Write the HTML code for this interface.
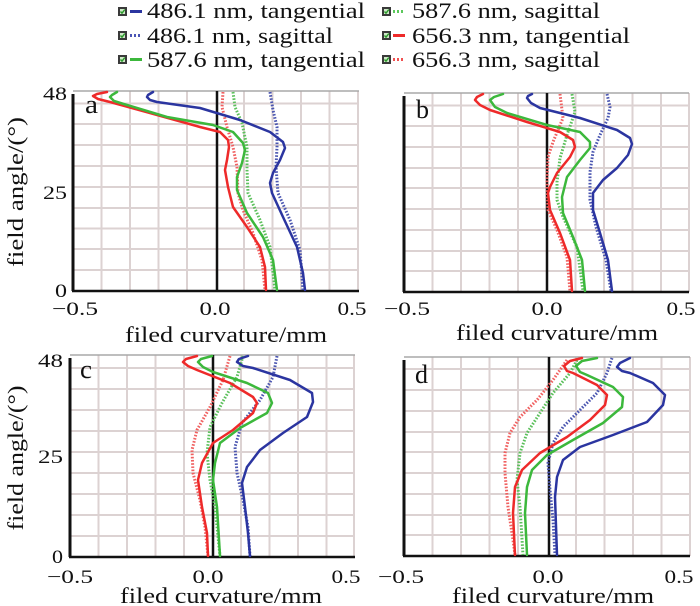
<!DOCTYPE html>
<html><head><meta charset="utf-8"><style>
html,body{margin:0;padding:0;background:#fff;}
svg{display:block;}
svg text{font-family:"Liberation Serif","Times New Roman",serif;fill:#111;}
</style></head><body>
<svg width="700" height="606" viewBox="0 0 700 606" xmlns="http://www.w3.org/2000/svg" font-family="Liberation Serif, Times New Roman, serif">
<defs>
<g id="chk"><rect x="0" y="0" width="9" height="9" fill="#3a3a3a"/><rect x="2" y="2" width="5" height="5" fill="#cfe8c8"/><path d="M2.5 4.5 L4 6.2 L6.8 2.6" stroke="#2a9a2a" stroke-width="1.4" fill="none"/></g>
</defs>

<!-- Legend -->
<g>
<use href="#chk" x="118" y="7"/><line x1="130" y1="11.5" x2="142" y2="11.5" stroke="#2b35a0" stroke-width="3"/>
<text x="147" y="18" font-size="22" textLength="218" lengthAdjust="spacingAndGlyphs">486.1 nm, tangential</text>
<use href="#chk" x="118" y="31"/><line x1="130" y1="35.5" x2="142" y2="35.5" stroke="#4a55b5" stroke-width="3" stroke-dasharray="2 2"/>
<text x="147" y="43" font-size="22" textLength="186" lengthAdjust="spacingAndGlyphs">486.1 nm, sagittal</text>
<use href="#chk" x="118" y="55"/><line x1="130" y1="59.5" x2="142" y2="59.5" stroke="#3cb83c" stroke-width="3"/>
<text x="147" y="67" font-size="22" textLength="218" lengthAdjust="spacingAndGlyphs">587.6 nm, tangential</text>

<use href="#chk" x="382" y="7"/><line x1="393" y1="11.5" x2="405" y2="11.5" stroke="#5cc85c" stroke-width="3" stroke-dasharray="2 2"/>
<text x="412" y="18" font-size="22" textLength="188" lengthAdjust="spacingAndGlyphs">587.6 nm, sagittal</text>
<use href="#chk" x="382" y="31"/><line x1="393" y1="35.5" x2="405" y2="35.5" stroke="#ee2a2a" stroke-width="3"/>
<text x="412" y="43" font-size="22" textLength="218" lengthAdjust="spacingAndGlyphs">656.3 nm, tangential</text>
<use href="#chk" x="382" y="55"/><line x1="393" y1="59.5" x2="405" y2="59.5" stroke="#f05050" stroke-width="3" stroke-dasharray="2 2"/>
<text x="412" y="67" font-size="22" textLength="188" lengthAdjust="spacingAndGlyphs">656.3 nm, sagittal</text>
</g>

<!-- ===== Panel a ===== -->
<g stroke="#dcd2d2" stroke-width="2">
<line x1="101.5" y1="91" x2="101.5" y2="291"/><line x1="130" y1="91" x2="130" y2="291"/><line x1="158.5" y1="91" x2="158.5" y2="291"/><line x1="187" y1="91" x2="187" y2="291"/><line x1="244" y1="91" x2="244" y2="291"/><line x1="272.5" y1="91" x2="272.5" y2="291"/><line x1="301" y1="91" x2="301" y2="291"/><line x1="329.5" y1="91" x2="329.5" y2="291"/><line x1="358" y1="91" x2="358" y2="291"/>
<line x1="73" y1="270" x2="359" y2="270"/><line x1="73" y1="249" x2="359" y2="249"/><line x1="73" y1="228.5" x2="359" y2="228.5"/><line x1="73" y1="208" x2="359" y2="208"/><line x1="73" y1="187" x2="359" y2="187"/><line x1="73" y1="166" x2="359" y2="166"/><line x1="73" y1="145" x2="359" y2="145"/><line x1="73" y1="124" x2="359" y2="124"/><line x1="73" y1="103.5" x2="359" y2="103.5"/>
</g>
<line x1="73" y1="91" x2="359" y2="91" stroke="#a8a8a8" stroke-width="1.5"/>
<line x1="73" y1="94" x2="73" y2="291" stroke="#111" stroke-width="3"/>
<line x1="72" y1="291" x2="359" y2="291" stroke="#111" stroke-width="2.5"/>
<line x1="217" y1="91" x2="217" y2="291" stroke="#111" stroke-width="2.5"/>
<g fill="none" stroke-linejoin="round" stroke-linecap="butt">
<polyline stroke="#f06060" stroke-width="3" stroke-dasharray="1.6 1.6" points="223,92 222,107 227,127 233,147 237,167 238,193 243,210 253,233 262,260 265,290"/>
<polyline stroke="#5cc05c" stroke-width="3" stroke-dasharray="1.6 1.6" points="233,92 235,107 242,123 247,147 247,170 248,193 260,220 270,247 275,290"/>
<polyline stroke="#4a55b0" stroke-width="3" stroke-dasharray="1.6 1.6" points="270,92 273,110 277,127 277,147 276,167 278,193 290,220 300,250 303,290"/>
</g>
<g fill="none" stroke-linejoin="round" stroke-linecap="round">
<polyline stroke="#ee2a2a" stroke-width="2.5" points="107,92 97,94 93,96 98,99 110,102 150,113 200,127 220,132 228,140 229,147 227,160 225,170 228,187 233,207 247,227 260,247 265,267 266,290"/>
<polyline stroke="#3cb83c" stroke-width="2.5" points="117,92 112,95 110,97 114,101 127,105 167,117 213,125 233,132 243,143 245,150 242,163 237,177 237,190 247,213 263,237 273,260 277,290"/>
<polyline stroke="#2b35a0" stroke-width="2.5" points="153,92 148,95 147,97 150,100 157,102 200,108 240,120 270,132 283,142 285,148 280,160 273,173 270,183 272,193 283,217 297,247 303,273 305,290"/>
</g>
<text x="85" y="113" font-size="26" textLength="13" lengthAdjust="spacingAndGlyphs">a</text>
<text x="67" y="100" font-size="19" text-anchor="end" textLength="24" lengthAdjust="spacingAndGlyphs">48</text>
<text x="67" y="199" font-size="19" text-anchor="end" textLength="24" lengthAdjust="spacingAndGlyphs">25</text>
<text x="67" y="297" font-size="19" text-anchor="end" textLength="12" lengthAdjust="spacingAndGlyphs">0</text>
<text x="75" y="315" font-size="19" text-anchor="middle" textLength="46" lengthAdjust="spacingAndGlyphs">−0.5</text>
<text x="215" y="315" font-size="19" text-anchor="middle" textLength="31" lengthAdjust="spacingAndGlyphs">0.0</text>
<text x="352" y="315" font-size="19" text-anchor="middle" textLength="29" lengthAdjust="spacingAndGlyphs">0.5</text>
<text x="226" y="342" font-size="22" text-anchor="middle" textLength="202" lengthAdjust="spacingAndGlyphs">filed curvature/mm</text>
<text transform="translate(23,192) rotate(-90)" font-size="22" text-anchor="middle" textLength="150" lengthAdjust="spacingAndGlyphs">field angle/(°)</text>

<!-- ===== Panel b ===== -->
<g stroke="#dcd2d2" stroke-width="2">
<line x1="432.5" y1="93" x2="432.5" y2="292"/><line x1="461" y1="93" x2="461" y2="292"/><line x1="489.5" y1="93" x2="489.5" y2="292"/><line x1="518" y1="93" x2="518" y2="292"/><line x1="575.5" y1="93" x2="575.5" y2="292"/><line x1="604" y1="93" x2="604" y2="292"/><line x1="632.5" y1="93" x2="632.5" y2="292"/><line x1="661" y1="93" x2="661" y2="292"/><line x1="689" y1="93" x2="689" y2="292"/>
<line x1="404" y1="271" x2="689" y2="271"/><line x1="404" y1="251" x2="689" y2="251"/><line x1="404" y1="230" x2="689" y2="230"/><line x1="404" y1="209" x2="689" y2="209"/><line x1="404" y1="188" x2="689" y2="188"/><line x1="404" y1="168" x2="689" y2="168"/><line x1="404" y1="147" x2="689" y2="147"/><line x1="404" y1="126" x2="689" y2="126"/><line x1="404" y1="105.5" x2="689" y2="105.5"/>
</g>
<line x1="404" y1="93" x2="689" y2="93" stroke="#a8a8a8" stroke-width="1.5"/>
<line x1="404" y1="96" x2="404" y2="292" stroke="#111" stroke-width="3"/>
<line x1="403" y1="292" x2="689" y2="292" stroke="#111" stroke-width="2.5"/>
<line x1="547" y1="93" x2="547" y2="292" stroke="#111" stroke-width="2.5"/>
<g fill="none" stroke-linejoin="round" stroke-linecap="butt">
<polyline stroke="#f06060" stroke-width="3" stroke-dasharray="1.6 1.6" points="560,94 563,118 553,142 548,157 547,180 548,210 557,230 567,257 570,291"/>
<polyline stroke="#5cc05c" stroke-width="3" stroke-dasharray="1.6 1.6" points="572,94 575,112 567,135 560,158 557,182 557,200 563,217 577,247 583,291"/>
<polyline stroke="#4a55b0" stroke-width="3" stroke-dasharray="1.6 1.6" points="607,94 610,107 608,118 600,135 593,152 590,172 590,200 596,227 606,260 611,291"/>
</g>
<g fill="none" stroke-linejoin="round" stroke-linecap="round">
<polyline stroke="#ee2a2a" stroke-width="2.5" points="483,94 477,97 475,100 480,105 490,110 527,122 560,132 573,140 575,147 570,157 557,173 550,187 548,193 550,210 560,233 570,260 572,291"/>
<polyline stroke="#3cb83c" stroke-width="2.5" points="503,94 494,97 490,100 495,107 507,113 547,125 580,132 590,142 590,148 580,160 567,177 562,197 563,213 573,237 582,260 585,291"/>
<polyline stroke="#2b35a0" stroke-width="2.5" points="532,94 528,96 527,98 531,103 540,108 580,118 617,130 630,138 632,144 628,155 617,168 603,180 593,193 593,210 600,233 608,260 612,291"/>
</g>
<text x="416" y="118" font-size="26" textLength="13" lengthAdjust="spacingAndGlyphs">b</text>
<text x="407" y="315" font-size="19" text-anchor="middle" textLength="46" lengthAdjust="spacingAndGlyphs">−0.5</text>
<text x="547" y="315" font-size="19" text-anchor="middle" textLength="31" lengthAdjust="spacingAndGlyphs">0.0</text>
<text x="681" y="315" font-size="19" text-anchor="middle" textLength="29" lengthAdjust="spacingAndGlyphs">0.5</text>
<text x="557" y="340" font-size="22" text-anchor="middle" textLength="202" lengthAdjust="spacingAndGlyphs">filed curvature/mm</text>

<!-- ===== Panel c ===== -->
<g stroke="#dcd2d2" stroke-width="2">
<line x1="98.5" y1="355" x2="98.5" y2="557"/><line x1="127" y1="355" x2="127" y2="557"/><line x1="155.5" y1="355" x2="155.5" y2="557"/><line x1="184" y1="355" x2="184" y2="557"/><line x1="241" y1="355" x2="241" y2="557"/><line x1="269.5" y1="355" x2="269.5" y2="557"/><line x1="298" y1="355" x2="298" y2="557"/><line x1="326.5" y1="355" x2="326.5" y2="557"/><line x1="354" y1="355" x2="354" y2="557"/>
<line x1="70" y1="536" x2="355" y2="536"/><line x1="70" y1="515" x2="355" y2="515"/><line x1="70" y1="494" x2="355" y2="494"/><line x1="70" y1="473" x2="355" y2="473"/><line x1="70" y1="452" x2="355" y2="452"/><line x1="70" y1="431" x2="355" y2="431"/><line x1="70" y1="410" x2="355" y2="410"/><line x1="70" y1="389" x2="355" y2="389"/><line x1="70" y1="368" x2="355" y2="368"/>
</g>
<line x1="70" y1="355" x2="355" y2="355" stroke="#a8a8a8" stroke-width="1.5"/>
<line x1="70" y1="358" x2="70" y2="557" stroke="#111" stroke-width="3"/>
<line x1="69" y1="557" x2="355" y2="557" stroke="#111" stroke-width="2.5"/>
<line x1="213" y1="355" x2="213" y2="557" stroke="#111" stroke-width="2.5"/>
<g fill="none" stroke-linejoin="round" stroke-linecap="butt">
<polyline stroke="#f06060" stroke-width="3" stroke-dasharray="1.6 1.6" points="230,356 223,380 210,407 197,430 192,450 193,473 200,500 205,527 208,556"/>
<polyline stroke="#5cc05c" stroke-width="3" stroke-dasharray="1.6 1.6" points="243,356 237,377 222,403 210,427 207,453 210,480 215,507 220,556"/>
<polyline stroke="#4a55b0" stroke-width="3" stroke-dasharray="1.6 1.6" points="277,356 273,377 260,400 242,423 235,447 237,473 243,500 248,527 250,556"/>
</g>
<g fill="none" stroke-linejoin="round" stroke-linecap="round">
<polyline stroke="#ee2a2a" stroke-width="2.5" points="197,356 186,359 183,362 188,366 197,370 230,383 253,397 257,403 253,413 233,430 213,443 202,463 198,480 202,507 207,533 208,556"/>
<polyline stroke="#3cb83c" stroke-width="2.5" points="212,356 201,359 198,362 203,367 213,372 247,383 268,393 272,403 267,413 240,428 220,443 215,463 213,480 217,507 220,556"/>
<polyline stroke="#2b35a0" stroke-width="2.5" points="248,356 239,359 237,362 243,366 253,368 290,380 312,393 313,402 307,417 283,433 260,450 247,467 242,483 245,507 248,533 250,556"/>
</g>
<text x="80" y="378" font-size="26" textLength="12" lengthAdjust="spacingAndGlyphs">c</text>
<text x="63" y="367" font-size="19" text-anchor="end" textLength="25" lengthAdjust="spacingAndGlyphs">48</text>
<text x="63" y="463" font-size="19" text-anchor="end" textLength="25" lengthAdjust="spacingAndGlyphs">25</text>
<text x="63" y="563" font-size="19" text-anchor="end" textLength="11" lengthAdjust="spacingAndGlyphs">0</text>
<text x="70" y="583" font-size="19" text-anchor="middle" textLength="46" lengthAdjust="spacingAndGlyphs">−0.5</text>
<text x="208" y="583" font-size="19" text-anchor="middle" textLength="31" lengthAdjust="spacingAndGlyphs">0.0</text>
<text x="346" y="583" font-size="19" text-anchor="middle" textLength="29" lengthAdjust="spacingAndGlyphs">0.5</text>
<text x="221" y="603" font-size="22" text-anchor="middle" textLength="202" lengthAdjust="spacingAndGlyphs">filed curvature/mm</text>
<text transform="translate(23,458) rotate(-90)" font-size="22" text-anchor="middle" textLength="145" lengthAdjust="spacingAndGlyphs">field angle/(°)</text>

<!-- ===== Panel d ===== -->
<g stroke="#dcd2d2" stroke-width="2">
<line x1="432.5" y1="357" x2="432.5" y2="556"/><line x1="461" y1="357" x2="461" y2="556"/><line x1="489.5" y1="357" x2="489.5" y2="556"/><line x1="518" y1="357" x2="518" y2="556"/><line x1="576" y1="357" x2="576" y2="556"/><line x1="604.5" y1="357" x2="604.5" y2="556"/><line x1="633" y1="357" x2="633" y2="556"/><line x1="661.5" y1="357" x2="661.5" y2="556"/><line x1="690" y1="357" x2="690" y2="556"/>
<line x1="404" y1="535" x2="690" y2="535"/><line x1="404" y1="515" x2="690" y2="515"/><line x1="404" y1="494" x2="690" y2="494"/><line x1="404" y1="473" x2="690" y2="473"/><line x1="404" y1="452" x2="690" y2="452"/><line x1="404" y1="432" x2="690" y2="432"/><line x1="404" y1="411" x2="690" y2="411"/><line x1="404" y1="390" x2="690" y2="390"/><line x1="404" y1="369" x2="690" y2="369"/>
</g>
<line x1="404" y1="357" x2="690" y2="357" stroke="#a8a8a8" stroke-width="1.5"/>
<line x1="404" y1="360" x2="404" y2="556" stroke="#111" stroke-width="3"/>
<line x1="403" y1="556" x2="690" y2="556" stroke="#111" stroke-width="2.5"/>
<line x1="549" y1="357" x2="549" y2="556" stroke="#111" stroke-width="2.5"/>
<g fill="none" stroke-linejoin="round" stroke-linecap="butt">
<polyline stroke="#f06060" stroke-width="3" stroke-dasharray="1.6 1.6" points="567,360 553,380 537,400 520,417 510,433 505,453 505,473 508,507 513,540 515,555"/>
<polyline stroke="#5cc05c" stroke-width="3" stroke-dasharray="1.6 1.6" points="577,360 570,373 553,393 540,413 527,433 520,453 517,480 520,507 523,555"/>
<polyline stroke="#4a55b0" stroke-width="3" stroke-dasharray="1.6 1.6" points="612,358 607,373 597,393 580,410 563,427 553,443 548,463 550,490 553,520 555,555"/>
</g>
<g fill="none" stroke-linejoin="round" stroke-linecap="round">
<polyline stroke="#ee2a2a" stroke-width="2.5" points="582,358 570,361 564,366 567,371 573,373 597,385 607,395 605,405 590,420 567,437 540,453 522,470 515,487 513,513 515,555"/>
<polyline stroke="#3cb83c" stroke-width="2.5" points="597,358 582,361 576,366 580,372 587,375 613,387 623,397 622,407 603,423 573,440 547,455 532,470 527,487 525,513 527,555"/>
<polyline stroke="#2b35a0" stroke-width="2.5" points="630,358 620,363 617,367 622,371 630,373 653,383 665,395 663,405 647,422 613,435 580,447 563,460 557,477 555,497 557,555"/>
</g>
<text x="415" y="383" font-size="26" textLength="13" lengthAdjust="spacingAndGlyphs">d</text>
<text x="401" y="583" font-size="19" text-anchor="middle" textLength="46" lengthAdjust="spacingAndGlyphs">−0.5</text>
<text x="548" y="583" font-size="19" text-anchor="middle" textLength="31" lengthAdjust="spacingAndGlyphs">0.0</text>
<text x="679" y="583" font-size="19" text-anchor="middle" textLength="29" lengthAdjust="spacingAndGlyphs">0.5</text>
<text x="553" y="603" font-size="22" text-anchor="middle" textLength="202" lengthAdjust="spacingAndGlyphs">filed curvature/mm</text>
</svg>
</body></html>
